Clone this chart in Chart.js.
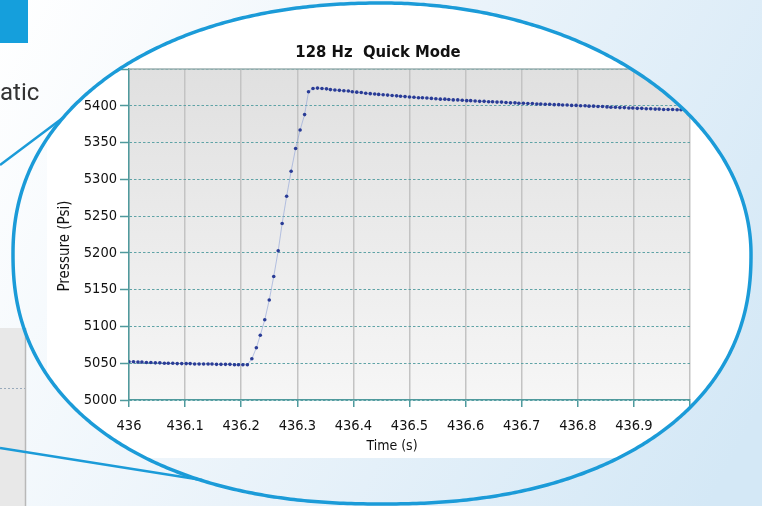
<!DOCTYPE html>
<html>
<head>
<meta charset="utf-8">
<script src="https://cdn.jsdelivr.net/npm/chart.js@4.4.1/dist/chart.umd.min.js"></script>
<style>
  html, body { margin: 0; padding: 0; background: #fff; }
  canvas { display: block; }
</style>
</head>
<body>
<canvas id="chart" width="762" height="506"></canvas>
<script>
const START_S = 436;
// sample times in ms after 436 s (128 Hz)
const TIME_MS = [
  0, 8, 16, 23, 31, 39, 47, 55, 63, 70, 78, 86, 94, 102, 109, 117,
  125, 133, 141, 148, 156, 164, 172, 180, 188, 195, 203, 211, 219, 227, 234, 242,
  250, 258, 266, 273, 281, 289, 297, 305, 313, 320, 328, 336, 344, 352, 359, 367,
  375, 383, 391, 398, 406, 414, 422, 430, 438, 445, 453, 461, 469, 477, 484, 492,
  500, 508, 516, 523, 531, 539, 547, 555, 563, 570, 578, 586, 594, 602, 609, 617,
  625, 633, 641, 648, 656, 664, 672, 680, 688, 695, 703, 711, 719, 727, 734, 742,
  750, 758, 766, 773, 781, 789, 797, 805, 813, 820, 828, 836, 844, 852, 859, 867,
  875, 883, 891, 898, 906, 914, 922, 930, 938, 945, 953, 961, 969, 977, 984, 992
];
const PRESSURE = [
  5052, 5052, 5051.5, 5051.5, 5051, 5051, 5050.5, 5050.5, 5050, 5050, 5050, 5049.5, 5049.5, 5049.5, 5049.5, 5049,
  5049, 5049, 5049, 5049, 5048.5, 5048.5, 5048.5, 5048.5, 5048, 5048, 5048, 5048, 5056, 5071, 5088, 5109,
  5136, 5168, 5203, 5240, 5277, 5311, 5342, 5367, 5388, 5419, 5423.5, 5424, 5423.5, 5423, 5422, 5421.5,
  5421, 5420.5, 5420, 5419, 5418.5, 5418, 5417, 5416.5, 5416, 5415.5, 5415, 5414.5, 5414, 5413.5, 5413, 5412.5,
  5412, 5411.5, 5411, 5411, 5410.5, 5410, 5409.5, 5409, 5409, 5408.5, 5408, 5408, 5407.5, 5407, 5407, 5406.5,
  5406, 5406, 5405.5, 5405.5, 5405, 5405, 5404.5, 5404, 5404, 5403.5, 5403.5, 5403, 5403, 5402.5, 5402.5, 5402,
  5402, 5401.5, 5401.5, 5401, 5401, 5400.5, 5400.5, 5400, 5400, 5399.5, 5399.5, 5399, 5399, 5398.5, 5398, 5398,
  5397.5, 5397.5, 5397, 5397, 5396.5, 5396.5, 5396, 5396, 5395.5, 5395.5, 5395, 5395, 5395, 5394.5, 5394.5, 5394.5
];
const X_TICK_LABELS = ['436', '436.1', '436.2', '436.3', '436.4', '436.5', '436.6', '436.7', '436.8', '436.9'];
const Y_TICK_LABELS = ['5000', '5050', '5100', '5150', '5200', '5250', '5300', '5350', '5400'];
const CHART_TITLE = '128 Hz  Quick Mode';
const X_TITLE = 'Time (s)';
const Y_TITLE = 'Pressure (Psi)';

const FONT = '"DejaVu Sans Condensed", "Liberation Sans", sans-serif';
const TEAL = '#4f9a9d';
const LENS_BLUE = '#1b9bd8';
const INK = '#111111';

// magnifier lens outline (page decoration): oval, a bit squarer at top-left and bottom
const LENS = { cx: 382, cy: 254, rx: 369, ryTop: 251, ryBottom: 250, nTopLeft: 2.15, nTopRight: 2, nBottom: 2.25 };

function lensPath(ctx) {
  const L = LENS;
  ctx.beginPath();
  for (let k = 0; k <= 720; k++) {
    const t = k / 720 * 2 * Math.PI;
    const c = Math.cos(t), s = Math.sin(t);
    const n = s > 0 ? L.nBottom : (c < 0 ? L.nTopLeft : L.nTopRight);
    const ry = s > 0 ? L.ryBottom : L.ryTop;
    const x = L.cx + L.rx * Math.sign(c) * Math.pow(Math.abs(c), 2 / n);
    const y = L.cy + ry * Math.sign(s) * Math.pow(Math.abs(s), 2 / n);
    if (k === 0) ctx.moveTo(x, y); else ctx.lineTo(x, y);
  }
  ctx.closePath();
}

const pagePlugin = {
  id: 'page',
  beforeDraw(chart) {
    const ctx = chart.ctx;
    const w = chart.width, h = chart.height;
    const a = chart.chartArea;
    ctx.save(); // restored in afterDraw, keeps the lens clip

    const bg = ctx.createLinearGradient(0, 0, w, h * 0.8);
    bg.addColorStop(0, '#ffffff');
    bg.addColorStop(0.5, '#eaf3fa');
    bg.addColorStop(1, '#d4e8f6');
    ctx.fillStyle = bg;
    ctx.fillRect(0, 0, w, h);

    ctx.fillStyle = '#159fdc';
    ctx.fillRect(0, 0, 28, 43);

    ctx.fillStyle = '#333';
    ctx.font = '24px Roboto, sans-serif';
    ctx.textAlign = 'left';
    ctx.textBaseline = 'alphabetic';
    ctx.fillText('atic', 0, 100);

    // small chart peeking out on the left
    ctx.fillStyle = '#e8e8e8';
    ctx.fillRect(0, 328, 26, h - 328);
    ctx.strokeStyle = '#b8b8b8';
    ctx.lineWidth = 1.5;
    ctx.beginPath();
    ctx.moveTo(25.5, 328); ctx.lineTo(25.5, h);
    ctx.stroke();
    ctx.strokeStyle = '#9ab';
    ctx.lineWidth = 1;
    ctx.setLineDash([2, 2]);
    ctx.beginPath();
    ctx.moveTo(0, 388.5); ctx.lineTo(25, 388.5);
    ctx.stroke();
    ctx.setLineDash([]);

    // callout lines
    ctx.strokeStyle = LENS_BLUE;
    ctx.lineWidth = 2.5;
    ctx.beginPath();
    ctx.moveTo(0, 165); ctx.lineTo(80, 105);
    ctx.moveTo(0, 448); ctx.lineTo(202, 480);
    ctx.stroke();

    // inside of the lens
    lensPath(ctx);
    ctx.clip();
    ctx.fillStyle = '#ffffff';
    ctx.fillRect(47, 0, w - 47, 458);

    const pg = ctx.createLinearGradient(0, a.top, 0, a.bottom);
    pg.addColorStop(0, '#e0e0e0');
    pg.addColorStop(1, '#f6f6f6');
    ctx.fillStyle = pg;
    ctx.fillRect(a.left, a.top, a.right - a.left, a.bottom - a.top);
  },
  afterDraw(chart) {
    const ctx = chart.ctx;
    const a = chart.chartArea;

    ctx.strokeStyle = '#9db0b0';
    ctx.lineWidth = 1.5;
    ctx.beginPath();
    ctx.moveTo(a.left, a.top); ctx.lineTo(a.right, a.top);
    ctx.stroke();

    ctx.fillStyle = INK;
    ctx.font = '14px ' + FONT;
    ctx.textAlign = 'center';
    ctx.textBaseline = 'alphabetic';
    ctx.fillText(X_TITLE, 392, 450);

    ctx.save();
    ctx.translate(69, 246);
    ctx.rotate(-Math.PI / 2);
    ctx.font = '15px ' + FONT;
    ctx.fillText(Y_TITLE, 0, 0);
    ctx.restore();

    ctx.restore(); // drop the lens clip
    lensPath(ctx);
    ctx.strokeStyle = LENS_BLUE;
    ctx.lineWidth = 3.5;
    ctx.stroke();
  }
};

const points = TIME_MS.map((ms, i) => ({ x: START_S + ms / 1000, y: PRESSURE[i] }));

new Chart(document.getElementById('chart'), {
  type: 'line',
  data: {
    datasets: [{
      data: points,
      borderColor: 'rgba(140,160,215,0.6)',
      borderWidth: 1,
      pointRadius: 1.8,
      pointBorderWidth: 0,
      pointBackgroundColor: '#2a3c96',
      tension: 0
    }]
  },
  options: {
    responsive: false,
    animation: false,
    events: [],
    layout: { padding: { left: 66, right: 72, top: 0, bottom: 0 } },
    plugins: {
      legend: { display: false },
      tooltip: { enabled: false },
      title: {
        display: true,
        text: CHART_TITLE,
        color: INK,
        font: { family: FONT, size: 16.5, weight: 'bold', lineHeight: 1.2 },
        padding: { top: 43, bottom: 6.2 }
      }
    },
    scales: {
      x: {
        type: 'linear',
        min: 436,
        max: 437,
        afterFit(s) { s.height = 106; },
        ticks: {
          stepSize: 0.1,
          autoSkip: false,
          maxRotation: 0,
          padding: 10.5,
          color: INK,
          font: { family: FONT, size: 14.5 },
          callback: (v, i) => X_TICK_LABELS[i] ?? ''
        },
        grid: { color: '#c3c3c3', lineWidth: 1.5, tickLength: 7, tickColor: TEAL, tickWidth: 1.5 },
        border: { color: TEAL, width: 1.5 }
      },
      y: {
        min: 5000,
        max: 5450,
        afterFit(s) { s.width = 63; },
        ticks: {
          stepSize: 50,
          padding: 3,
          color: INK,
          font: { family: FONT, size: 14.5 },
          callback: (v, i) => Y_TICK_LABELS[i] ?? ''
        },
        grid: { color: '#5fa3a6', lineWidth: 1, tickLength: 9, tickColor: TEAL, tickWidth: 1.5 },
        border: { color: TEAL, width: 1.5, dash: [2.5, 2] }
      }
    }
  },
  plugins: [pagePlugin]
});
</script>
</body>
</html>
